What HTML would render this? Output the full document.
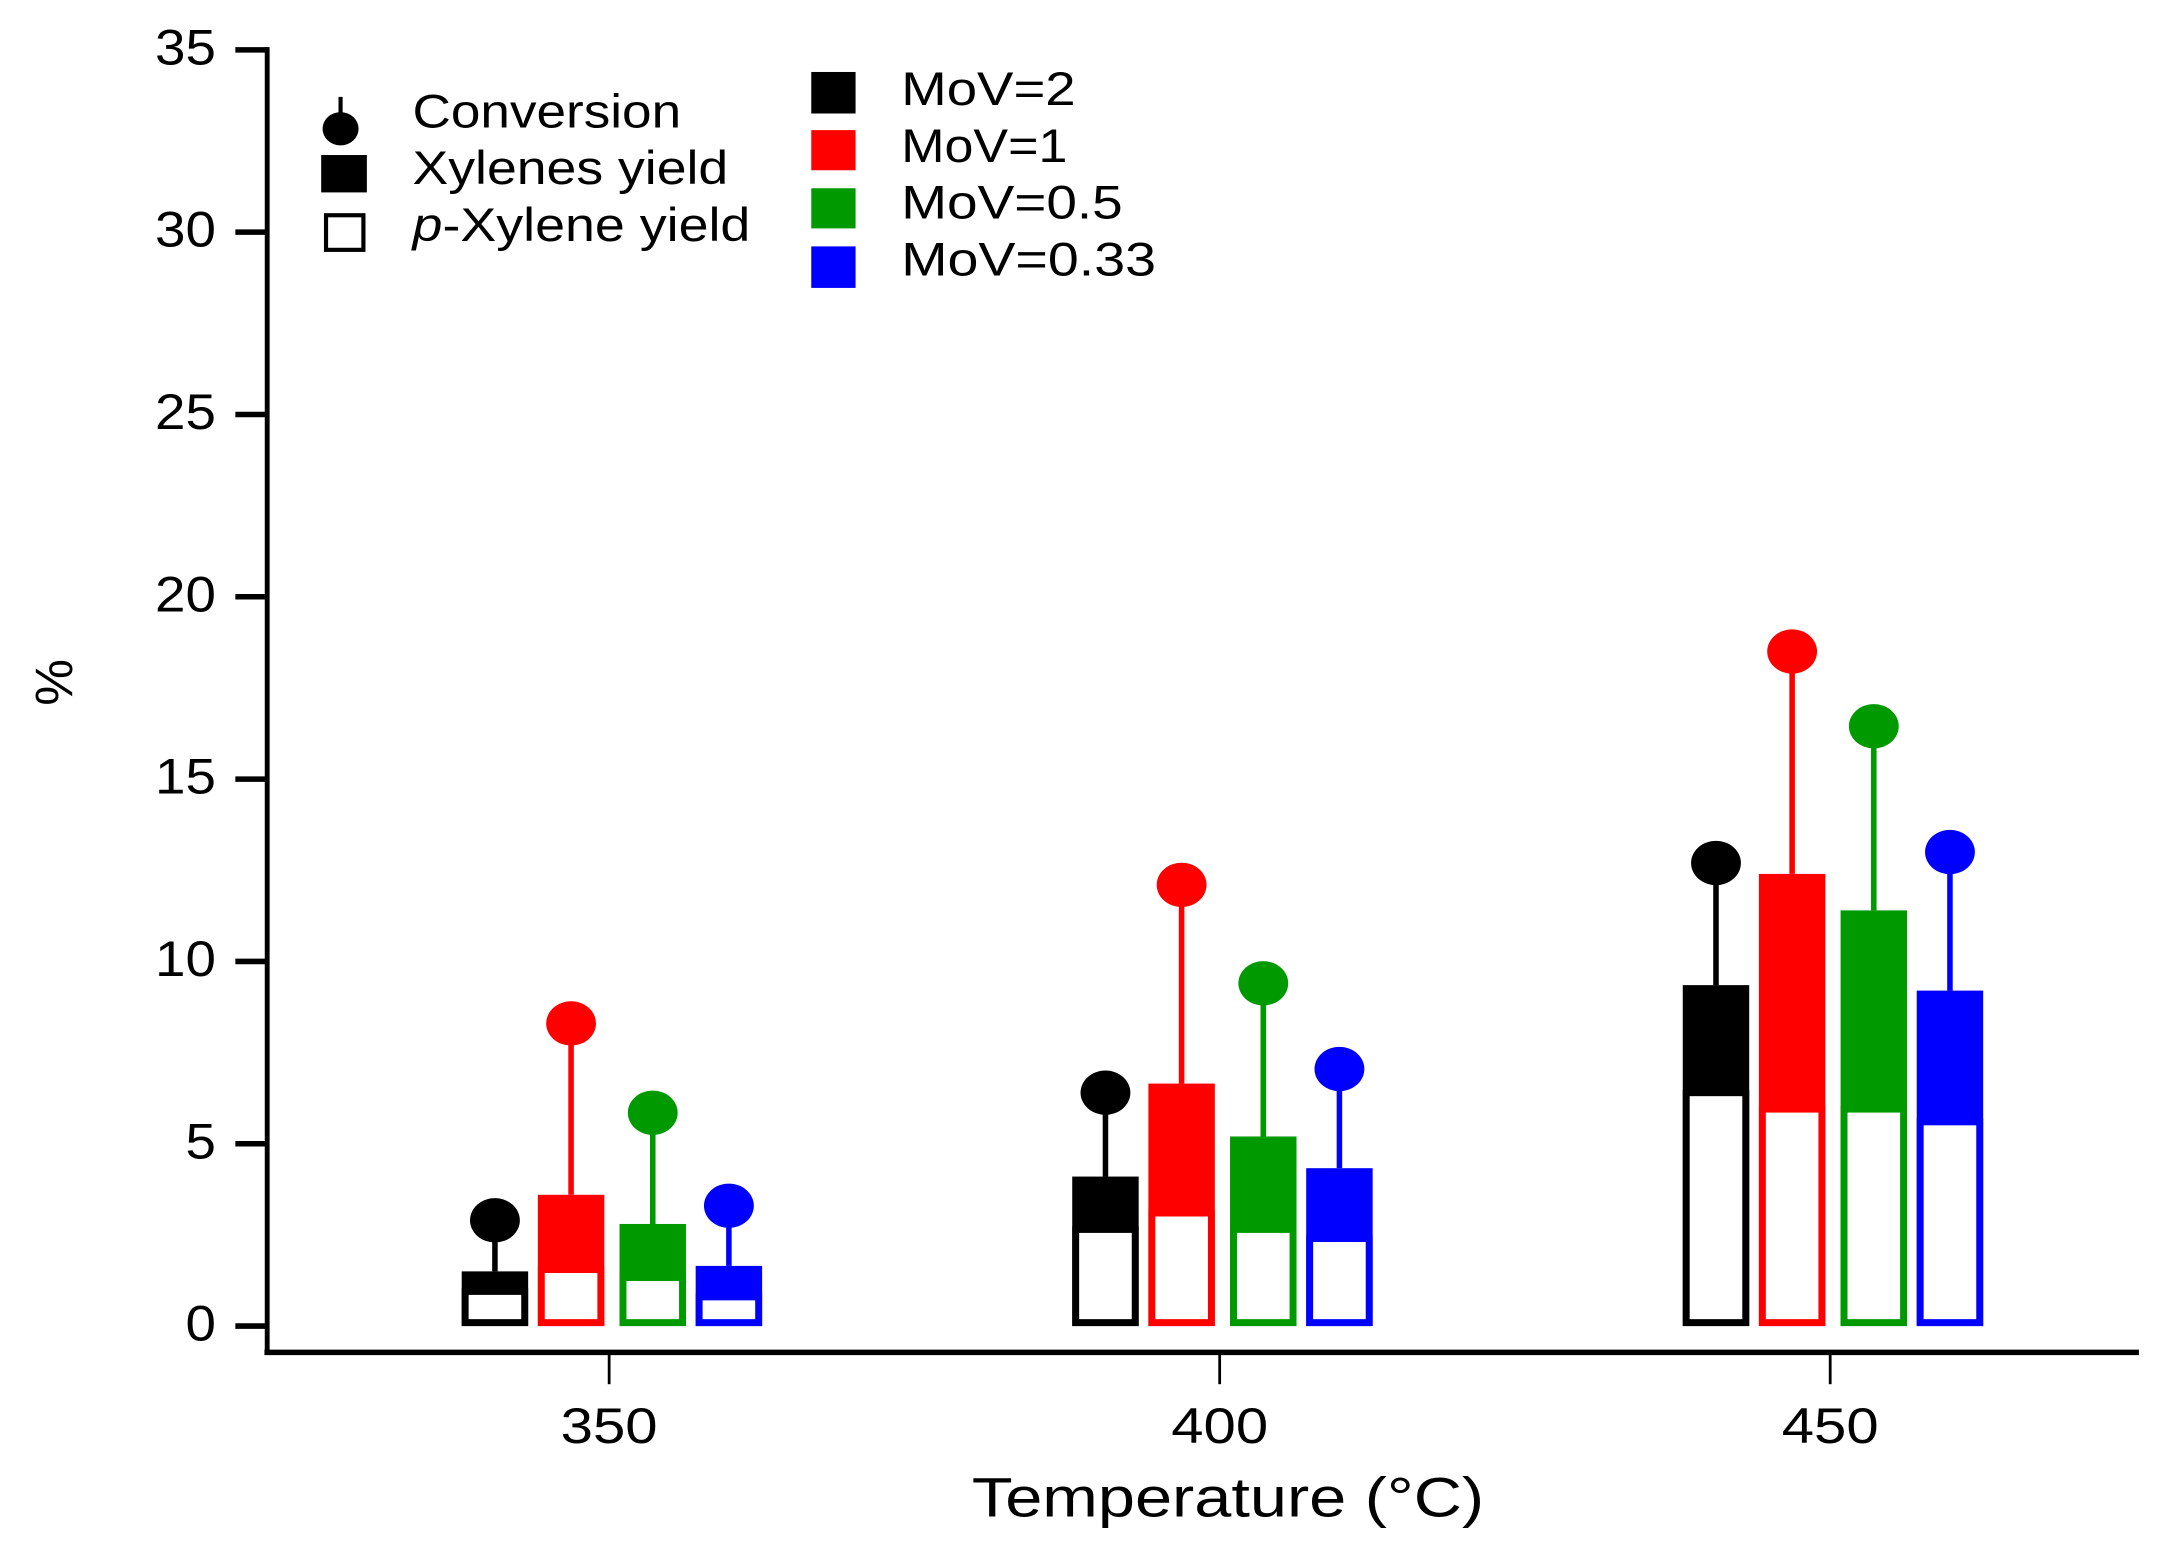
<!DOCTYPE html>
<html><head><meta charset="utf-8"><style>
html,body{margin:0;padding:0;background:#fff;}
svg{display:block;font-family:"Liberation Sans",sans-serif;}
</style></head><body>
<svg id="chart" width="2168" height="1560" viewBox="0 0 1566 1127" preserveAspectRatio="none" xmlns="http://www.w3.org/2000/svg">
<g id="axes"></g>
<g id="marks"></g>
<g id="legend" font-size="34">
  <line x1="246" y1="70" x2="246" y2="90" stroke="#000" stroke-width="3"/>
  <ellipse cx="246" cy="93" rx="13" ry="12" fill="#000"/>
  <text x="298" y="83" dominant-baseline="middle" textLength="194" lengthAdjust="spacingAndGlyphs">Conversion</text>
  <rect x="232" y="112" width="33" height="27" fill="#000"/>
  <text x="298" y="124" dominant-baseline="middle" textLength="228" lengthAdjust="spacingAndGlyphs">Xylenes yield</text>
  <rect x="235.5" y="155.5" width="27" height="25" fill="#fff" stroke="#000" stroke-width="3"/>
  <text x="298" y="165" dominant-baseline="middle" textLength="244" lengthAdjust="spacingAndGlyphs"><tspan font-style="italic">p</tspan>-Xylene yield</text>
  <rect x="586" y="52" width="32" height="30" fill="#000"/>
  <text x="651" y="67" dominant-baseline="middle" textLength="126" lengthAdjust="spacingAndGlyphs">MoV=2</text>
  <rect x="586" y="94" width="32" height="29" fill="#ff0000"/>
  <text x="651" y="108" dominant-baseline="middle" textLength="120" lengthAdjust="spacingAndGlyphs">MoV=1</text>
  <rect x="586" y="136" width="32" height="29" fill="#009900"/>
  <text x="651" y="149" dominant-baseline="middle" textLength="160" lengthAdjust="spacingAndGlyphs">MoV=0.5</text>
  <rect x="586" y="178" width="32" height="30" fill="#0000ff"/>
  <text x="651" y="190" dominant-baseline="middle" textLength="184" lengthAdjust="spacingAndGlyphs">MoV=0.33</text>
</g>
</svg>
<script>
const categories = ["350", "400", "450"];
const seriesNames = ["MoV=2", "MoV=1", "MoV=0.5", "MoV=0.33"];
const xylenesYield = [[1.5, 4.1, 9.35], [3.6, 6.65, 12.4], [2.8, 5.2, 11.4], [1.65, 4.33, 9.2]];
const pXyleneYield = [[0.95, 2.65, 6.4], [1.55, 3.1, 5.95], [1.33, 2.65, 5.95], [0.8, 2.4, 5.6]];
const conversion = [[2.9, 6.4, 12.7], [8.3, 12.1, 18.5], [5.85, 9.4, 16.45], [3.3, 7.05, 13.0]];
const yTicks = [0, 5, 10, 15, 20, 25, 30, 35];

const colors = ["#000000", "#ff0000", "#009900", "#0000ff"];
const NS = "http://www.w3.org/2000/svg";
function yScale(v){ return 958 - v * (958 - 36) / 35; }
function xScale(i){ return 440 + i * 441; }
const offsets = [-82.5, -27.5, 31.5, 86.5];
const barW = 48;
function mk(tag, attrs, parent){ const e = document.createElementNS(NS, tag); for (const k in attrs) e.setAttribute(k, attrs[k]); parent.appendChild(e); return e; }

const axes = document.getElementById('axes');
let el;
el = mk('line', {x1:193, y1:34, x2:193, y2:977, stroke:'#000', 'stroke-width':3.5}, axes);


el = mk('line', {x1:191, y1:977, x2:1545, y2:977, stroke:'#000', 'stroke-width':4}, axes);


yTicks.forEach(t => {
  const y = yScale(t);
  const tk = mk('line', {x1:170, y1:y, x2:193, y2:y, stroke:'#000', 'stroke-width':4}, axes);
  
  
  const lb = mk('text', {x:156, y:y+1, 'font-size':36, 'text-anchor':'end', 'dominant-baseline':'middle', textLength:String(t).length*22, lengthAdjust:'spacingAndGlyphs'}, axes);
  lb.textContent = t;
  
  
});
categories.forEach((c, i) => {
  const x = xScale(i);
  const tk = mk('line', {x1:x, y1:977, x2:x, y2:1000, stroke:'#000', 'stroke-width':2}, axes);
  
  
  const lb = mk('text', {x:x, y:1033, 'font-size':36, 'text-anchor':'middle', 'dominant-baseline':'middle', textLength:70, lengthAdjust:'spacingAndGlyphs'}, axes);
  lb.textContent = c;
  
  
});
el = mk('text', {x:887, y:1085, 'font-size':40, 'text-anchor':'middle', 'dominant-baseline':'middle', textLength:370, lengthAdjust:'spacingAndGlyphs'}, axes);
el.textContent = 'Temperature (°C)';


el = mk('text', {x:0, y:0, 'font-size':38, 'text-anchor':'middle', 'dominant-baseline':'middle', transform:'translate(42,493) rotate(-90)'}, axes);
el.textContent = '%';



const marks = document.getElementById('marks');
seriesNames.forEach((s, si) => {
  categories.forEach((c, ci) => {
    const cx = xScale(ci) + offsets[si];
    const col = colors[si];
    const y0 = yScale(0);
    const yx = yScale(xylenesYield[si][ci]);
    const yp = yScale(pXyleneYield[si][ci]);
    const yc = yScale(conversion[si][ci]);
    const ln = mk('line', {x1:cx, y1:yx, x2:cx, y2:yc, stroke:col, 'stroke-width':4}, marks);
    
    
    const xb = mk('rect', {x:cx-barW/2, y:yx, width:barW, height:y0-yx, fill:col}, marks);
    
    
    const pb = mk('rect', {x:cx-barW/2+2.5, y:yp, width:barW-5, height:y0-yp-2.5, fill:'#fff', stroke:col, 'stroke-width':5}, marks);
    
    
    const pt = mk('ellipse', {cx:cx, cy:yc, rx:18, ry:16, fill:col}, marks);
    
    
  });
});
</script>
</body></html>
